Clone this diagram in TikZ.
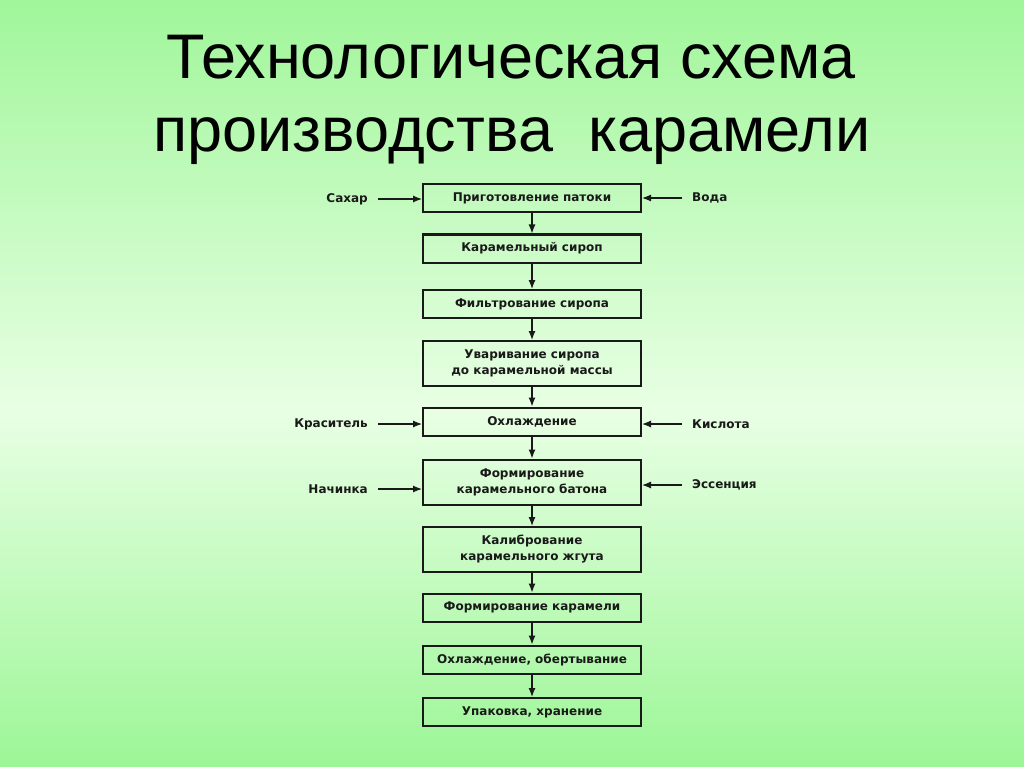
\documentclass[tikz,border=0pt]{standalone}
\usepackage{fontspec}
\setmainfont{Liberation Sans}
\newfontfamily\boxfont{DejaVu Sans}
\usetikzlibrary{arrows.meta,positioning}
\definecolor{bgtop}{RGB}{160,246,154}
\definecolor{bgmid}{RGB}{232,255,228}
\definecolor{bgbot}{RGB}{156,246,150}
\definecolor{ink}{RGB}{25,25,25}

\begin{document}
\begin{tikzpicture}[x=1pt,y=-1pt,
        box/.style={draw=ink,line width=2pt,minimum width=218pt,minimum height=28pt,inner sep=0pt,
            text=ink,align=center,font=\boxfont\bfseries\fontsize{12}{16}\selectfont},
        tallbox/.style={box,minimum height=45pt},
        side/.style={inner xsep=10pt,text=ink,font=\boxfont\bfseries\fontsize{12}{13}\selectfont},
        title/.style={anchor=base,font=\fontsize{63}{73}\selectfont},
        flow/.style={draw=ink,line width=1.2pt,-{Latex[length=9pt,width=7pt]}}]
        \shade[top color=bgtop,bottom color=bgmid] (0,0) rectangle (1024,410);
        \shade[top color=bgmid,bottom color=bgbot] (0,410) rectangle (1024,767);
        \node[title] (head) at (511,79) {Технологическая схема};
        \node[title] (subhead) at (512,152) {производства~~карамели};
        \node[box] (prep) at (532,198.5) {Приготовление патоки};
        \node[side,anchor=east] (sugar) at (378,199) {Сахар};
        \node[side,anchor=west] (water) at (682,198) {Вода};
        \draw[flow] (sugar.east) -- (sugar.east -| prep.west);
        \draw[flow] (water.west) -- (water.west -| prep.east);
        \node[box] (syrup) at (532,248.5) {Карамельный сироп};
        \node[box] (filter) at (532,304) {Фильтрование сиропа};
        \node[tallbox] (boil) at (532,363.5) {Уваривание сиропа\\до карамельной массы};
        \draw[flow] (prep.south) -- (syrup.north);
        \draw[flow] (syrup.south) -- (filter.north);
        \draw[flow] (filter.south) -- (boil.north);
        \node[box] (cool) at (532,421.5) {Охлаждение};
        \node[side,anchor=east] (dye) at (378,424) {Краситель};
        \node[side,anchor=west] (acid) at (682,424) {Кислота};
        \draw[flow] (boil.south) -- (cool.north);
        \draw[flow] (dye.east) -- (dye.east -| cool.west);
        \draw[flow] (acid.west) -- (acid.west -| cool.east);
        \node[tallbox] (rope) at (532,482) {Формирование\\карамельного батона};
        \node[side,anchor=east] (fill) at (378,489) {Начинка};
        \node[side,anchor=west] (ess) at (682,485) {Эссенция};
        \draw[flow] (cool.south) -- (rope.north);
        \draw[flow] (fill.east) -- (fill.east -| rope.west);
        \draw[flow] (ess.west) -- (ess.west -| rope.east);
        \node[tallbox] (calib) at (532,549.5) {Калибрование\\карамельного жгута};
        \node[box] (shape) at (532,607.5) {Формирование карамели};
        \node[box] (wrap) at (532,659.5) {Охлаждение, обертывание};
        \node[box] (pack) at (532,712) {Упаковка, хранение};
        \draw[flow] (rope.south) -- (calib.north);
        \draw[flow] (calib.south) -- (shape.north);
        \draw[flow] (shape.south) -- (wrap.north);
        \draw[flow] (wrap.south) -- (pack.north);
    \end{tikzpicture}
\end{document}
